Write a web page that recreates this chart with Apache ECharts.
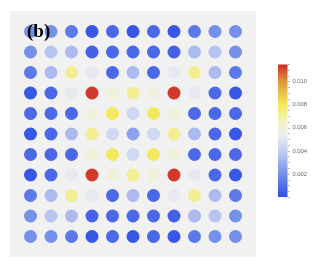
<!DOCTYPE html>
<html><head><meta charset="utf-8">
<script src="https://cdn.jsdelivr.net/npm/echarts@6/dist/echarts.min.js"></script>
<style>html,body{margin:0;padding:0;background:#fff}#c{width:317px;height:270px}</style>
</head><body><div id="c"></div>
<script>
// grid of values (rows top->bottom, cols left->right)
const rowLabels = ['1','2','3','4','5','6','7','8','9','10','11'];
const colLabels = ['1','2','3','4','5','6','7','8','9','10','11'];
const row1  = [0.0020,0.0020,0.0013,0.0003,0.0008,0.0003,0.0008,0.0003,0.0013,0.0020,0.0020];
const row2  = [0.0020,0.0037,0.0034,0.0006,0.0008,0.0008,0.0008,0.0006,0.0034,0.0037,0.0020];
const row3  = [0.0013,0.0034,0.0072,0.0052,0.0008,0.0034,0.0008,0.0052,0.0072,0.0034,0.0013];
const row4  = [0.0003,0.0008,0.0052,0.0113,0.0060,0.0072,0.0060,0.0113,0.0052,0.0008,0.0003];
const row5  = [0.0008,0.0008,0.0008,0.0060,0.0080,0.0045,0.0080,0.0060,0.0008,0.0008,0.0008];
const row6  = [0.0003,0.0008,0.0034,0.0072,0.0045,0.0026,0.0045,0.0072,0.0034,0.0008,0.0003];
const row7  = [0.0008,0.0008,0.0008,0.0060,0.0080,0.0045,0.0080,0.0060,0.0008,0.0008,0.0008];
const row8  = [0.0003,0.0008,0.0052,0.0113,0.0060,0.0072,0.0060,0.0113,0.0052,0.0008,0.0003];
const row9  = [0.0013,0.0034,0.0072,0.0052,0.0008,0.0034,0.0008,0.0052,0.0072,0.0034,0.0013];
const row10 = [0.0020,0.0037,0.0034,0.0006,0.0008,0.0008,0.0008,0.0006,0.0034,0.0037,0.0020];
const row11 = [0.0020,0.0020,0.0013,0.0003,0.0008,0.0003,0.0008,0.0003,0.0013,0.0020,0.0020];
const rows = [row1,row2,row3,row4,row5,row6,row7,row8,row9,row10,row11];

// colour scale
const scaleMin = 0;
const scaleMax = 0.0115;
const stopValues = [0, 0.002, 0.004, 0.0055, 0.0065, 0.008, 0.010, 0.0115];
const stopColors = ['#2f4de6','#7590ea','#c3cdf2','#eeeff0','#f4f2c4','#f2ea5a','#e09a3a','#cf2a2a'];
const cbTicks = ['0.002','0.004','0.006','0.008','0.010'];

const data = [];
rows.forEach((r, i) => r.forEach((v, j) => data.push([j, i, v])));

// build visualMap colour list sampled evenly from stops
function hex2rgb(h){return [parseInt(h.substr(1,2),16),parseInt(h.substr(3,2),16),parseInt(h.substr(5,2),16)];}
function colorAt(v){
  for(let k=0;k<stopValues.length-1;k++){
    if(v<=stopValues[k+1]){
      const t=(v-stopValues[k])/(stopValues[k+1]-stopValues[k]);
      const a=hex2rgb(stopColors[k]), b=hex2rgb(stopColors[k+1]);
      return 'rgb('+a.map((x,n)=>Math.round(x+(b[n]-x)*t)).join(',')+')';
    }
  }
  return stopColors[stopColors.length-1];
}
const N=60, vmColors=[], grad=[];
for(let k=0;k<=N;k++){
  const v=scaleMin+(scaleMax-scaleMin)*k/N;
  vmColors.push(colorAt(v));
  grad.push({offset:1-k/N,color:colorAt(v)});
}

const chart = echarts.init(document.getElementById('c'));
chart.setOption({
  animation:false,
  title:{text:'(b)',left:22,top:18,textStyle:{fontFamily:'Liberation Serif',fontWeight:'bold',fontSize:19,color:'#000'}},
  grid:[
    {left:10,top:11,width:246,height:246,show:true,backgroundColor:'#f1f1f1',borderWidth:0},
    {left:278,top:64.4,width:9.5,height:132.7,show:false}
  ],
  xAxis:[
    {gridIndex:0,type:'value',min:-1,max:11,show:false},
    {gridIndex:1,type:'category',data:['cb'],show:false}
  ],
  yAxis:[
    {gridIndex:0,type:'value',min:-1,max:11,inverse:true,show:false},
    {gridIndex:1,type:'value',position:'right',min:scaleMin,max:scaleMax,interval:0.002,
     axisLine:{show:false},splitLine:{show:false},
     axisTick:{show:true,length:2.5,lineStyle:{color:'#aaa',width:0.8}},
     minorTick:{show:true,splitNumber:4,length:2.5,lineStyle:{color:'#aaa',width:0.8}},
     axisLabel:{margin:5,fontSize:5.8,color:'#666',fontFamily:'Liberation Sans',
       formatter:v=>{const s=v.toFixed(3);return cbTicks.indexOf(s)>=0?s:'';}}}
  ],
  visualMap:{type:'continuous',show:false,min:scaleMin,max:scaleMax,dimension:2,seriesIndex:0,inRange:{color:vmColors}},
  series:[
    {type:'scatter',xAxisIndex:0,yAxisIndex:0,symbolSize:13,data:data,itemStyle:{opacity:1}},
    {type:'bar',xAxisIndex:1,yAxisIndex:1,barWidth:'100%',data:[scaleMax],
     itemStyle:{color:new echarts.graphic.LinearGradient(0,0,0,1,grad)}}
  ]
});
</script></body></html>
